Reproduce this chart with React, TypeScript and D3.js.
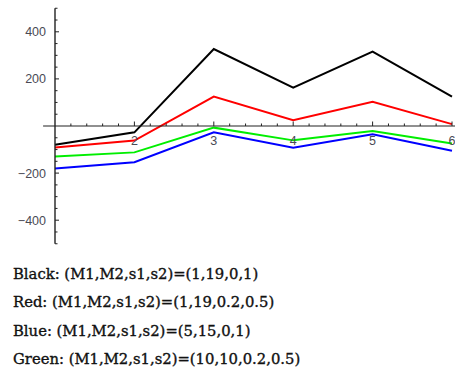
import React from "react";
import * as d3 from "d3";

const xValues = [1, 2, 3, 4, 5, 6];
const blackValues = [-80, -27, 327, 163, 316, 125];
const redValues = [-91, -62, 125, 25, 103, 8];
const greenValues = [-130, -112, -7, -61, -21, -74];
const blueValues = [-180, -154, -27, -92, -35, -105];
const xTickLabels = [2, 3, 4, 5, 6];
const yTickLabels = [-400, -200, 200, 400];
const legendLines = [
  "Black: (M1,M2,s1,s2)=(1,19,0,1)",
  "Red: (M1,M2,s1,s2)=(1,19,0.2,0.5)",
  "Blue: (M1,M2,s1,s2)=(5,15,0,1)",
  "Green: (M1,M2,s1,s2)=(10,10,0.2,0.5)",
];

const series = [
  { color: "#000000", values: blackValues },
  { color: "#ff0000", values: redValues },
  { color: "#00ee00", values: greenValues },
  { color: "#0000ff", values: blueValues },
];

export default function App() {
  const W = 455;
  const H = 374;
  const x = d3.scaleLinear().domain([1, 6]).range([55, 452]);
  const y = d3.scaleLinear().domain([-500, 500]).range([243.75, 8.25]);
  const line = d3
    .line<number>()
    .x((_, i) => x(xValues[i]))
    .y((d) => y(d));

  const xMinor = d3.range(1.2, 6.01, 0.2).filter((v) => Math.abs(v - Math.round(v)) > 0.01);
  const xMajor = [2, 3, 4, 5, 6];
  const yMinor = d3.range(-500, 501, 50).filter((v) => v % 200 !== 0);
  const yMajor = [-400, -200, 200, 400];
  const axisColor = "#222";
  const labelColor = "#4a4a55";

  const legendY = [274, 302, 331, 359];

  return (
    <div style={{ position: "absolute", left: 0, top: 0 }}>
      <svg width={W} height={H} style={{ display: "block", background: "#fff" }}>
        {series.map((s, i) => (
          <path
            key={i}
            d={line(s.values) || ""}
            fill="none"
            stroke={s.color}
            strokeWidth={2}
            strokeLinejoin="miter"
          />
        ))}
        <line x1={x(0.85)} x2={W} y1={y(0)} y2={y(0)} stroke={axisColor} strokeWidth={1.2} />
        {xMinor.map((v) => (
          <line key={"xm" + v} x1={x(v)} x2={x(v)} y1={y(0)} y2={y(0) - 2.5} stroke={axisColor} strokeWidth={1} />
        ))}
        {xMajor.map((v) => (
          <line key={"xM" + v} x1={x(v)} x2={x(v)} y1={y(0)} y2={y(0) - 4.5} stroke={axisColor} strokeWidth={1} />
        ))}
        {xTickLabels.map((v) => (
          <text
            key={"xl" + v}
            x={x(v)}
            y={y(0) + 19}
            textAnchor="middle"
            fontFamily="Liberation Sans, Arial, sans-serif"
            fontSize={12.5}
            fill={labelColor}
          >
            {v}
          </text>
        ))}
        <line x1={x(1)} x2={x(1)} y1={y(500)} y2={y(-500)} stroke={axisColor} strokeWidth={1.4} />
        {yMinor.map((v) => (
          <line key={"ym" + v} x1={x(1)} x2={x(1) + 2.5} y1={y(v)} y2={y(v)} stroke={axisColor} strokeWidth={1} />
        ))}
        {yMajor.map((v) => (
          <line key={"yM" + v} x1={x(1)} x2={x(1) + 4} y1={y(v)} y2={y(v)} stroke={axisColor} strokeWidth={1} />
        ))}
        {yTickLabels.map((v) => (
          <text
            key={"yl" + v}
            x={46}
            y={y(v) + 4.5}
            textAnchor="end"
            fontFamily="Liberation Sans, Arial, sans-serif"
            fontSize={12.5}
            fill={labelColor}
          >
            {v < 0 ? "\u2212" + Math.abs(v) : v}
          </text>
        ))}
        {legendLines.map((l, i) => (
          <text
            key={"lg" + i}
            x={13}
            y={legendY[i] + 5}
            fontFamily="DejaVu Serif, serif"
            fontSize={14.8}
            fill="#111"
            stroke="#111"
            strokeWidth={0.35}
          >
            {l}
          </text>
        ))}
      </svg>
    </div>
  );
}
